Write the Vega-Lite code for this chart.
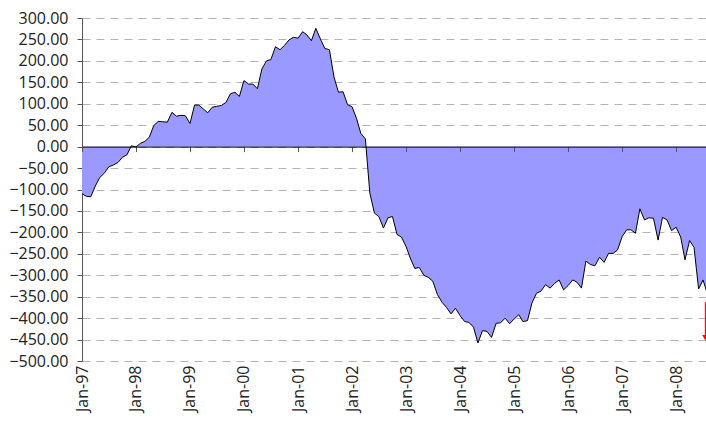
{
  "$schema": "https://vega.github.io/schema/vega-lite/v6.json",
  "width": 624,
  "height": 343,
  "autosize": {"type": "none"},
  "padding": {"left": 82, "top": 18, "right": 0, "bottom": 60},
  "background": "white",
  "config": {
    "view": {"stroke": null},
    "axis": {"labelFont": "Open Sans", "labelFontSize": 16, "labelColor": "#222222", "title": null}
  },
  "datasets": {
    "series": [
      {"d": "1997-01-01", "v": -110}, {"d": "1997-02-01", "v": -116}, {"d": "1997-03-01", "v": -117}, {"d": "1997-04-01", "v": -92},
      {"d": "1997-05-01", "v": -72}, {"d": "1997-06-01", "v": -62}, {"d": "1997-07-01", "v": -47}, {"d": "1997-08-01", "v": -43},
      {"d": "1997-09-01", "v": -37}, {"d": "1997-10-01", "v": -25}, {"d": "1997-11-01", "v": -19}, {"d": "1997-12-01", "v": 2},
      {"d": "1998-01-01", "v": -1}, {"d": "1998-02-01", "v": 8}, {"d": "1998-03-01", "v": 12}, {"d": "1998-04-01", "v": 22},
      {"d": "1998-05-01", "v": 49}, {"d": "1998-06-01", "v": 59}, {"d": "1998-07-01", "v": 58}, {"d": "1998-08-01", "v": 57},
      {"d": "1998-09-01", "v": 80}, {"d": "1998-10-01", "v": 71}, {"d": "1998-11-01", "v": 73}, {"d": "1998-12-01", "v": 72},
      {"d": "1999-01-01", "v": 54}, {"d": "1999-02-01", "v": 97}, {"d": "1999-03-01", "v": 97}, {"d": "1999-04-01", "v": 88},
      {"d": "1999-05-01", "v": 79}, {"d": "1999-06-01", "v": 92}, {"d": "1999-07-01", "v": 94}, {"d": "1999-08-01", "v": 96},
      {"d": "1999-09-01", "v": 103}, {"d": "1999-10-01", "v": 123}, {"d": "1999-11-01", "v": 127}, {"d": "1999-12-01", "v": 117},
      {"d": "2000-01-01", "v": 154}, {"d": "2000-02-01", "v": 146}, {"d": "2000-03-01", "v": 146}, {"d": "2000-04-01", "v": 135},
      {"d": "2000-05-01", "v": 181}, {"d": "2000-06-01", "v": 200}, {"d": "2000-07-01", "v": 203}, {"d": "2000-08-01", "v": 233},
      {"d": "2000-09-01", "v": 226}, {"d": "2000-10-01", "v": 236}, {"d": "2000-11-01", "v": 249}, {"d": "2000-12-01", "v": 255},
      {"d": "2001-01-01", "v": 253}, {"d": "2001-02-01", "v": 268}, {"d": "2001-03-01", "v": 261}, {"d": "2001-04-01", "v": 247},
      {"d": "2001-05-01", "v": 276}, {"d": "2001-06-01", "v": 251}, {"d": "2001-07-01", "v": 229}, {"d": "2001-08-01", "v": 226},
      {"d": "2001-09-01", "v": 162}, {"d": "2001-10-01", "v": 127}, {"d": "2001-11-01", "v": 128}, {"d": "2001-12-01", "v": 98},
      {"d": "2002-01-01", "v": 93}, {"d": "2002-02-01", "v": 65}, {"d": "2002-03-01", "v": 31}, {"d": "2002-04-01", "v": 18},
      {"d": "2002-05-01", "v": -108}, {"d": "2002-06-01", "v": -155}, {"d": "2002-07-01", "v": -163}, {"d": "2002-08-01", "v": -190},
      {"d": "2002-09-01", "v": -166}, {"d": "2002-10-01", "v": -163}, {"d": "2002-11-01", "v": -205}, {"d": "2002-12-01", "v": -211},
      {"d": "2003-01-01", "v": -233}, {"d": "2003-02-01", "v": -262}, {"d": "2003-03-01", "v": -284}, {"d": "2003-04-01", "v": -282},
      {"d": "2003-05-01", "v": -300}, {"d": "2003-06-01", "v": -305}, {"d": "2003-07-01", "v": -314}, {"d": "2003-08-01", "v": -345},
      {"d": "2003-09-01", "v": -363}, {"d": "2003-10-01", "v": -375}, {"d": "2003-11-01", "v": -390}, {"d": "2003-12-01", "v": -377},
      {"d": "2004-01-01", "v": -394}, {"d": "2004-02-01", "v": -408}, {"d": "2004-03-01", "v": -410}, {"d": "2004-04-01", "v": -421},
      {"d": "2004-05-01", "v": -458}, {"d": "2004-06-01", "v": -429}, {"d": "2004-07-01", "v": -431}, {"d": "2004-08-01", "v": -445},
      {"d": "2004-09-01", "v": -412}, {"d": "2004-10-01", "v": -411}, {"d": "2004-11-01", "v": -400}, {"d": "2004-12-01", "v": -413},
      {"d": "2005-01-01", "v": -402}, {"d": "2005-02-01", "v": -392}, {"d": "2005-03-01", "v": -408}, {"d": "2005-04-01", "v": -406},
      {"d": "2005-05-01", "v": -365}, {"d": "2005-06-01", "v": -342}, {"d": "2005-07-01", "v": -337}, {"d": "2005-08-01", "v": -322},
      {"d": "2005-09-01", "v": -330}, {"d": "2005-10-01", "v": -319}, {"d": "2005-11-01", "v": -311}, {"d": "2005-12-01", "v": -334},
      {"d": "2006-01-01", "v": -324}, {"d": "2006-02-01", "v": -311}, {"d": "2006-03-01", "v": -316}, {"d": "2006-04-01", "v": -330},
      {"d": "2006-05-01", "v": -267}, {"d": "2006-06-01", "v": -275}, {"d": "2006-07-01", "v": -278}, {"d": "2006-08-01", "v": -258},
      {"d": "2006-09-01", "v": -270}, {"d": "2006-10-01", "v": -249}, {"d": "2006-11-01", "v": -249}, {"d": "2006-12-01", "v": -241},
      {"d": "2007-01-01", "v": -210}, {"d": "2007-02-01", "v": -194}, {"d": "2007-03-01", "v": -194}, {"d": "2007-04-01", "v": -202},
      {"d": "2007-05-01", "v": -145}, {"d": "2007-06-01", "v": -171}, {"d": "2007-07-01", "v": -166}, {"d": "2007-08-01", "v": -167},
      {"d": "2007-09-01", "v": -218}, {"d": "2007-10-01", "v": -165}, {"d": "2007-11-01", "v": -171}, {"d": "2007-12-01", "v": -196},
      {"d": "2008-01-01", "v": -188}, {"d": "2008-02-01", "v": -211}, {"d": "2008-03-01", "v": -264}, {"d": "2008-04-01", "v": -219},
      {"d": "2008-05-01", "v": -235}, {"d": "2008-06-01", "v": -332}, {"d": "2008-07-01", "v": -311}, {"d": "2008-08-01", "v": -345}
    ],
    "marker": [{"d": "2008-07-18", "from": -363, "to": -446}]
  },
  "encoding": {
    "y": {
      "type": "quantitative",
      "scale": {"domain": [-500, 300], "nice": false, "zero": false},
      "axis": {
        "values": [300, 250, 200, 150, 100, 50, 0, -50, -100, -150, -200, -250, -300, -350, -400, -450, -500],
        "format": ".2f", "labelOverlap": false, "grid": true, "gridColor": "#b4b4b4", "gridDash": [8, 6], "gridWidth": 1,
        "domainColor": "#555555", "tickColor": "#555555", "tickSize": 5, "labelPadding": 9, "zindex": 0
      }
    }
  },
  "layer": [
    {
      "data": {"name": "series"},
      "mark": {"type": "area", "color": "#9999FF", "opacity": 1, "clip": true, "line": {"color": "black", "strokeWidth": 1}},
      "encoding": {
        "x": {
          "field": "d", "type": "temporal",
          "scale": {"type": "utc", "domain": [{"year": 1997, "month": 1, "date": 1, "utc": true}, {"year": 2008, "month": 7, "date": 21, "utc": true}]},
          "axis": {
            "orient": "bottom", "domain": false, "ticks": false, "grid": false, "labelAngle": -90, "labelPadding": 4,
            "format": "%b-%y", "labelOverlap": false,
            "values": [
              {"year": 1997, "month": 1, "date": 1, "utc": true}, {"year": 1998, "month": 1, "date": 1, "utc": true},
              {"year": 1999, "month": 1, "date": 1, "utc": true}, {"year": 2000, "month": 1, "date": 1, "utc": true},
              {"year": 2001, "month": 1, "date": 1, "utc": true}, {"year": 2002, "month": 1, "date": 1, "utc": true},
              {"year": 2003, "month": 1, "date": 1, "utc": true}, {"year": 2004, "month": 1, "date": 1, "utc": true},
              {"year": 2005, "month": 1, "date": 1, "utc": true}, {"year": 2006, "month": 1, "date": 1, "utc": true},
              {"year": 2007, "month": 1, "date": 1, "utc": true}, {"year": 2008, "month": 1, "date": 1, "utc": true}
            ]
          }
        },
        "y": {"field": "v"}
      }
    },
    {
      "data": {"name": "marker"},
      "mark": {"type": "rule", "color": "#ee1111", "strokeWidth": 1.5},
      "encoding": {
        "x": {
          "field": "d", "type": "temporal",
          "scale": {"type": "utc", "domain": [{"year": 1997, "month": 1, "date": 1, "utc": true}, {"year": 2008, "month": 7, "date": 21, "utc": true}]},
          "axis": {
            "orient": "bottom", "offset": -214.4, "labels": false, "grid": false, "zindex": 1,
            "domainColor": "black", "domainWidth": 1, "tickColor": "#555555", "tickSize": 5,
            "values": [
              {"year": 1997, "month": 1, "date": 1, "utc": true}, {"year": 1998, "month": 1, "date": 1, "utc": true},
              {"year": 1999, "month": 1, "date": 1, "utc": true}, {"year": 2000, "month": 1, "date": 1, "utc": true},
              {"year": 2001, "month": 1, "date": 1, "utc": true}, {"year": 2002, "month": 1, "date": 1, "utc": true},
              {"year": 2003, "month": 1, "date": 1, "utc": true}, {"year": 2004, "month": 1, "date": 1, "utc": true},
              {"year": 2005, "month": 1, "date": 1, "utc": true}, {"year": 2006, "month": 1, "date": 1, "utc": true},
              {"year": 2007, "month": 1, "date": 1, "utc": true}, {"year": 2008, "month": 1, "date": 1, "utc": true}
            ]
          }
        },
        "y": {"field": "from"},
        "y2": {"field": "to"}
      }
    },
    {
      "data": {"name": "marker"},
      "mark": {"type": "point", "shape": "triangle-down", "filled": true, "color": "#ee1111", "size": 45, "opacity": 1},
      "encoding": {
        "x": {
          "field": "d", "type": "temporal",
          "scale": {"type": "utc", "domain": [{"year": 1997, "month": 1, "date": 1, "utc": true}, {"year": 2008, "month": 7, "date": 21, "utc": true}]},
          "axis": null
        },
        "y": {"field": "to"}
      }
    }
  ],
  "resolve": {"scale": {"x": "independent"}}
}
